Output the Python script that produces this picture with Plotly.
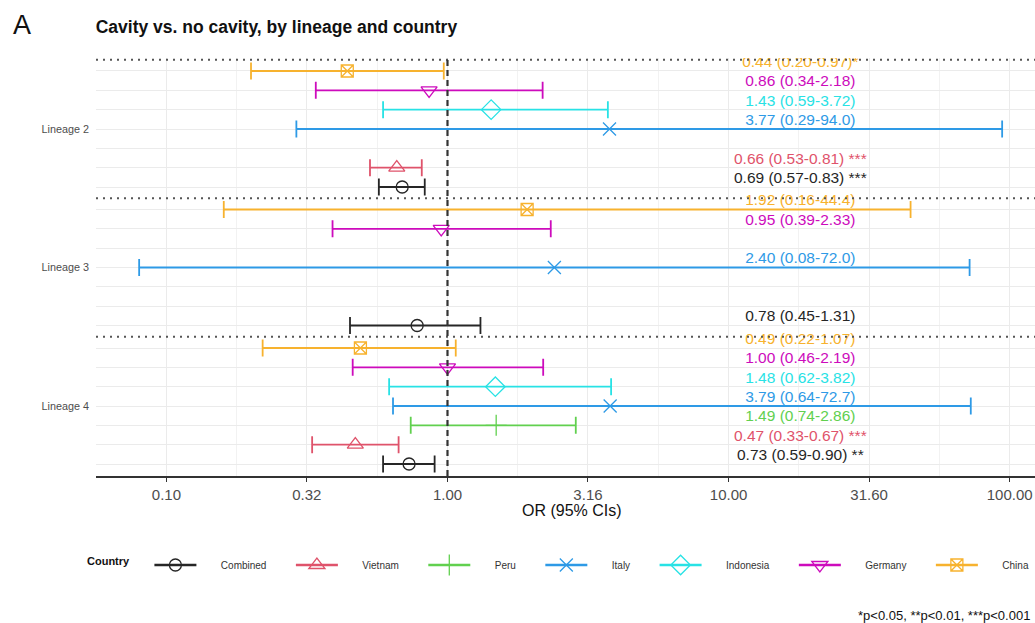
import math
import plotly.graph_objects as go

# ---- data -----------------------------------------------------------------
lineages = ["Lineage 2", "Lineage 3", "Lineage 4"]
countries = ["Combined", "Vietnam", "Peru", "Italy", "Indonesia", "Germany", "China"]

# one row per country, one column per lineage (2, 3, 4)
or_est = [
    [0.69, 0.78, 0.73],   # Combined
    [0.66, None, 0.47],   # Vietnam
    [None, None, 1.49],   # Peru
    [3.77, 2.40, 3.79],   # Italy
    [1.43, None, 1.48],   # Indonesia
    [0.86, 0.95, 1.00],   # Germany
    [0.44, 1.92, 0.49],   # China
]
ci_low = [
    [0.57, 0.45, 0.59],
    [0.53, None, 0.33],
    [None, None, 0.74],
    [0.29, 0.08, 0.64],
    [0.59, None, 0.62],
    [0.34, 0.39, 0.46],
    [0.20, 0.16, 0.22],
]
ci_high = [
    [0.83, 1.31, 0.90],
    [0.81, None, 0.67],
    [None, None, 2.86],
    [94.0, 72.0, 72.7],
    [3.72, None, 3.82],
    [2.18, 2.33, 2.19],
    [0.97, 44.4, 1.07],
]
signif = [
    [" ***", "", " **"],
    [" ***", "", " ***"],
    ["", "", ""],
    ["", "", ""],
    ["", "", ""],
    ["", "", ""],
    ["*", "", ""],
]

x_breaks = [0.1, 0.316, 1.0, 3.16, 10.0, 31.6, 100.0]

# ---- styling ----------------------------------------------------------------
FONT = "Liberation Sans, Arial, Helvetica, sans-serif"
colors = ["#262626", "#DF536B", "#61D04F", "#2E9AE6", "#28E2E5", "#CD0BBC", "#F7B22E"]
symbols = ["circle-open", "triangle-up-open", "cross-thin-open", "x-thin-open",
           "diamond-open", "triangle-down-open", "square-x-open"]
marker_sizes = [12, 14, 15, 13, 15, 14, 12]
dodge = 0.1396          # vertical spacing between countries inside a lineage band
label_x = 18.0          # x position of the estimate column
label_nudge = 0.058     # labels sit slightly above their row
NB = "\u00a0"


def fmt(v):
    return f"{v:.1f}" if v >= 10 else f"{v:.2f}"


n_lin = len(lineages)
lineage_pos = [n_lin - j for j in range(n_lin)]        # Lineage 2 on top
mid = (len(countries) - 1) / 2

fig = go.Figure()

all_rows = []
for k, country in enumerate(countries):
    ys, xs, lo_err, hi_err, texts, ty = [], [], [], [], [], []
    for j in range(n_lin):
        y = lineage_pos[j] + (k - mid) * dodge
        all_rows.append(y)
        v = or_est[k][j]
        if v is None:
            continue
        lo, hi = ci_low[k][j], ci_high[k][j]
        xs.append(v)
        ys.append(y)
        lo_err.append(v - lo)
        hi_err.append(hi - v)
        texts.append(f"{v:.2f} ({fmt(lo)}-{fmt(hi)}){signif[k][j]}")
        ty.append(y + label_nudge)
    c = colors[k]
    fig.add_trace(go.Scatter(
        x=xs, y=ys, mode="markers", showlegend=False,
        marker=dict(symbol=symbols[k], size=marker_sizes[k], color=c,
                    line=dict(color=c, width=1.3)),
        error_x=dict(type="data", symmetric=False, array=hi_err, arrayminus=lo_err,
                     color=c, thickness=1.8, width=8.5),
        hoverinfo="skip",
    ))
    fig.add_trace(go.Scatter(
        x=[label_x] * len(texts), y=ty, mode="text", text=texts, showlegend=False,
        textposition="middle center",
        textfont=dict(family=FONT, size=15.5, color=c), hoverinfo="skip",
    ))

# legend-only entries: line + symbol key, ordered as in the country list
for k, country in enumerate(countries):
    c = colors[k]
    tail = NB * 7 if k < len(countries) - 1 else ""
    fig.add_trace(go.Scatter(
        x=[None], y=[None], mode="lines+markers", name=NB * 7 + country + tail,
        line=dict(color=c, width=2.5),
        marker=dict(symbol=symbols[k], size=marker_sizes[k], color=c,
                    line=dict(color=c, width=1.3)),
    ))

# group separators and the reference line at OR = 1
for p in lineage_pos:
    fig.add_shape(type="line", xref="paper", x0=0, x1=1, yref="y",
                  y0=p + 0.5, y1=p + 0.5, layer="above",
                  line=dict(color="#555555", width=2, dash="2px,5px"))
fig.add_shape(type="line", xref="x", x0=1, x1=1, yref="paper", y0=0, y1=1,
              layer="above", line=dict(color="#333333", width=2.2, dash="6px,4px"))

rows_sorted = sorted(all_rows)
row_text = []
for y in rows_sorted:
    lab = ""
    for j, p in enumerate(lineage_pos):
        if abs(y - p) < 1e-9:
            lab = lineages[j]
    row_text.append(lab)

minor_vals = [math.sqrt(a * b) for a, b in zip(x_breaks[:-1], x_breaks[1:])]
minor_vals = [x_breaks[0] ** 2 / minor_vals[0]] + minor_vals + [x_breaks[-1] ** 2 / minor_vals[-1]]

fig.update_xaxes(
    type="log", range=[-1.2504, 2.0900],
    tickmode="array", tickvals=x_breaks, ticktext=[f"{v:.2f}" for v in x_breaks],
    tickfont=dict(family=FONT, size=15, color="#4D4D4D"),
    showgrid=True, gridcolor="#EBEBEB", gridwidth=1.1,
    minor=dict(tickmode="array", tickvals=minor_vals, showgrid=True,
               gridcolor="#F2F2F2", gridwidth=0.8, ticks=""),
    showline=True, linecolor="#333333", linewidth=2,
    ticks="outside", ticklen=4, tickwidth=1, tickcolor="#333333",
    zeroline=False,
)
fig.update_yaxes(
    range=[0.4946, 3.5126],
    tickmode="array", tickvals=rows_sorted, ticktext=row_text,
    tickfont=dict(family=FONT, size=10.8, color="#4D4D4D"),
    showgrid=True, gridcolor="#EBEBEB", gridwidth=1.1,
    ticks="", ticklabelstandoff=6, zeroline=False, showline=False,
)

fig.add_annotation(text="OR (95% CIs)", xref="paper", yref="paper",
                   x=(572 - 96) / 939, y=(476 - 510) / 418, showarrow=False,
                   xanchor="center", yanchor="middle",
                   font=dict(family=FONT, size=16, color="#111111"))
fig.add_annotation(text="A", xref="paper", yref="paper",
                   x=(11 - 96) / 939, y=(476 - 25) / 418, showarrow=False,
                   xanchor="left", yanchor="middle",
                   font=dict(family=FONT, size=27, color="#111111"))
fig.add_annotation(text="*p<0.05, **p<0.01, ***p<0.001", xref="paper", yref="paper",
                   x=(1032 - 96) / 939, y=(476 - 615) / 418, showarrow=False,
                   xanchor="right", yanchor="middle",
                   font=dict(family=FONT, size=13, color="#111111"))

fig.update_layout(
    width=1035, height=623,
    margin=dict(l=96, r=0, t=58, b=147),
    paper_bgcolor="white", plot_bgcolor="white",
    title=dict(text="<b>Cavity vs. no cavity, by lineage and country</b>",
               xref="container", yref="container", x=95.7 / 1035, xanchor="left",
               y=1 - 26.7 / 623, yanchor="middle",
               font=dict(family=FONT, size=17.5, color="#111111")),
    legend=dict(orientation="h", xanchor="left", yanchor="middle",
                x=(85 - 96) / 939, y=(476 - 565) / 418,
                itemwidth=42, traceorder="normal",
                font=dict(family=FONT, size=10, color="#333333"),
                title=dict(text="<b>Country</b>" + NB * 4, side="left",
                           font=dict(family=FONT, size=11, color="#111111"))),
    showlegend=True,
)

fig.write_html("out.html")
